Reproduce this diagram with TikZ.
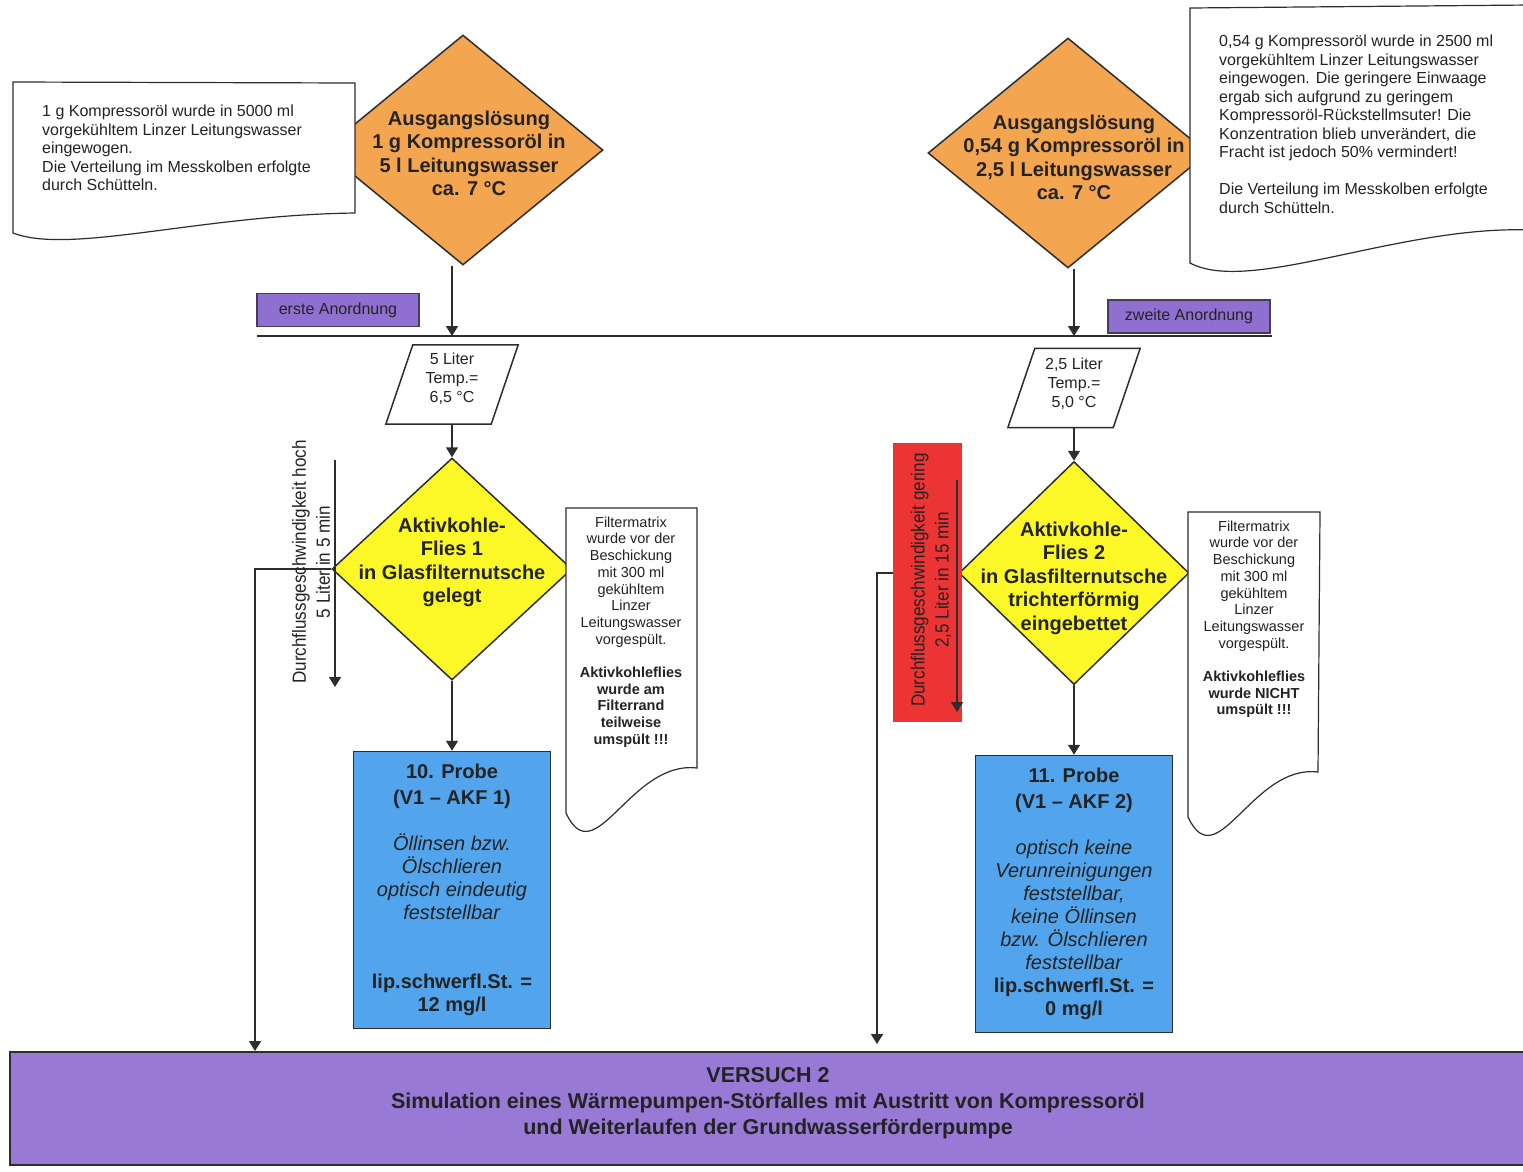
\documentclass[tikz,border=0pt]{standalone}
\usepackage{fontspec}
\setmainfont{Liberation Sans}
\newfontfamily\narrowsans[FakeStretch=0.9]{Liberation Sans}
\usetikzlibrary{shapes.geometric,arrows.meta}

\definecolor{linec}{RGB}{45,45,45}
\definecolor{textc}{RGB}{35,35,35}
\definecolor{orangefill}{RGB}{244,165,80}
\definecolor{yellowfill}{RGB}{252,248,40}
\definecolor{bluefill}{RGB}{82,165,236}
\definecolor{purplefill}{RGB}{143,112,208}
\definecolor{purplebar}{RGB}{152,122,214}
\definecolor{redfill}{RGB}{236,52,52}
\definecolor{tagborder}{RGB}{70,60,90}

\begin{document}
\begin{tikzpicture}[x=1pt,y=-1pt,
  line/.style={draw=linec, line width=1.5pt},
  arr/.style={line, -{Triangle[width=12pt,length=10pt]}},
  dia/.style={shape=diamond, draw=linec, line width=1.5pt, inner sep=0pt},
  txt/.style={inner sep=0pt, align=center, text=textc},
  bigbold/.style={font=\fontsize{20}{23.5}\selectfont\bfseries},
  small/.style={font=\fontsize{16}{18.5}\selectfont},
  tiny/.style={font=\fontsize{14.5}{16.7}\selectfont},
  rotfont/.style={font=\narrowsans\fontsize{19}{24}\selectfont},
  probe/.style={draw=linec, line width=1.5pt, fill=bluefill, minimum width=197pt, minimum height=277pt, inner sep=0pt},
  docshape/.style={draw=linec, line width=1.2pt, fill=white},
  pbox/.style={minimum width=105pt, minimum height=79pt, inner sep=0pt},
  tag/.style={draw=tagborder, line width=1.5pt, fill=purplefill, minimum width=162pt, minimum height=33pt, inner sep=0pt, font=\fontsize{16}{18.5}\selectfont, text=textc}]

\useasboundingbox (0,0) rectangle (1523,1171);
\fill[white] (0,0) rectangle (1523,1171);

% starting solutions
\node[dia, fill=orangefill, minimum width=280pt, minimum height=230pt] (o1) at (463,150) {};
\node[dia, fill=orangefill, minimum width=280pt, minimum height=230pt] (o2) at (1068,153) {};

% notes on the starting solutions
\draw[docshape] (13,82) -- (355,83) -- (355,213) .. controls (200,215) and (70,255) .. (13,233) -- cycle;
\node[txt, small, align=left, anchor=north west] (d1t) at (42,105)
  {1 g Kompressoröl wurde in 5000 ml\\vorgekühltem Linzer Leitungswasser\\eingewogen.\\Die Verteilung im Messkolben erfolgte\\durch Schütteln.};
\draw[docshape] (1190,8) -- (1530,5) -- (1530,230) .. controls (1400,225) and (1250,295) .. (1190,263) -- cycle;
\node[txt, small, align=left, anchor=north west] (d2t) at (1219,35)
  {0,54 g Kompressoröl wurde in 2500 ml\\vorgekühltem Linzer Leitungswasser\\eingewogen. Die geringere Einwaage\\ergab sich aufgrund zu geringem\\Kompressoröl-Rückstellmsuter! Die\\Konzentration blieb unverändert, die\\Fracht ist jedoch 50\% vermindert!\\[18.5pt]Die Verteilung im Messkolben erfolgte\\durch Schütteln.};

\node[txt, bigbold, anchor=north] (o1t) at (469,110.5)
  {Ausgangslösung\\1 g Kompressoröl in\\5 l Leitungswasser\\ca. 7 °C};
\node[txt, bigbold, anchor=north] (o2t) at (1074,114.5)
  {Ausgangslösung\\0,54 g Kompressoröl in\\2,5 l Leitungswasser\\ca. 7 °C};

% volume / temperature inputs
\node[pbox] (p1) at (452,384.5) {};
\node[pbox] (p2) at (1074,388) {};
\foreach \p in {p1,p2}
  \draw[line, fill=white] ([xshift=-13.5pt]\p.south west) -- ([xshift=-13.5pt]\p.south east)
    -- ([xshift=13.5pt]\p.north east) -- ([xshift=13.5pt]\p.north west) -- cycle;
\node[txt, font=\fontsize{16}{19}\selectfont, anchor=north] (p1t) at (452,353) {5 Liter\\Temp.=\\6,5 °C};
\node[txt, font=\fontsize{16}{19}\selectfont, anchor=north] (p2t) at (1074,358) {2,5 Liter\\Temp.=\\5,0 °C};

% distribution line
\coordinate (hl) at (257,336);
\coordinate (hr) at (1272,336);
\draw[line] (hl) -- (hr);
\draw[arr] (o1.south -| p1.north) -- (hl -| p1.north);
\draw[arr] (o2.south -| p2.north) -- (hl -| p2.north);

\node[tag] (t1) at (338,310) {erste Anordnung};
\node[tag] (t2) at (1189,316.5) {zweite Anordnung};

% filter stages
\node[dia, fill=yellowfill, minimum width=240pt, minimum height=222pt] (y1) at (452,569) {};
\node[dia, fill=yellowfill, minimum width=230pt, minimum height=223pt] (y2) at (1074,573) {};
\node[txt, bigbold, anchor=north] (y1t) at (452,517.6)
  {Aktivkohle-\\Flies 1\\in Glasfilternutsche\\gelegt};
\node[txt, bigbold, anchor=north] (y2t) at (1074,521.6)
  {Aktivkohle-\\Flies 2\\in Glasfilternutsche\\trichterförmig\\eingebettet};
\draw[arr] (p1.south) -- (y1.north);
\draw[arr] (p2.south) -- (y2.north);

% bypass flows to the bottom bar
\coordinate (c1) at (255,1051);
\coordinate (c2) at (877,1044);
\draw[arr] (y1.west) -| (c1);
\draw[arr] (y2.west) -| (c2);

% flow rate annotations
\coordinate (a1s) at (335,460);
\coordinate (a1e) at (335,687);
\draw[arr] (a1s) -- (a1e);
\node[txt, rotfont, rotate=90] (r1) at (311,562) {Durchflussgeschwindigkeit hoch\\5 Liter in 5 min};

\node[fill=redfill, minimum width=69pt, minimum height=279pt, inner sep=0pt] (redbox) at (927.5,582.5) {};
\coordinate (a2s) at (957,480);
\coordinate (a2e) at (957,712);
\draw[arr] (a2s) -- (a2e);
\node[txt, rotfont, rotate=90] (r2) at (931,580) {Durchflussgeschwindigkeit gering\\2,5 Liter in 15 min};

% filter notes
\draw[docshape] (566,508) -- (697,508) -- (697,768) .. controls (630,760) and (595,875) .. (566,813) -- cycle;
\draw[docshape] (1188,512) -- (1320,512) -- (1318,772) .. controls (1252,764) and (1217,879) .. (1188,817) -- cycle;
\node[txt, tiny, anchor=north] (f1t) at (631,516.5)
  {Filtermatrix\\wurde vor der\\Beschickung\\mit 300 ml\\gekühltem\\Linzer\\Leitungswasser\\vorgespült.\\[16.7pt]\textbf{Aktivkohleflies}\\\textbf{wurde am}\\\textbf{Filterrand}\\\textbf{teilweise}\\\textbf{umspült !!!}};
\node[txt, tiny, anchor=north] (f2t) at (1254,520.5)
  {Filtermatrix\\wurde vor der\\Beschickung\\mit 300 ml\\gekühltem\\Linzer\\Leitungswasser\\vorgespült.\\[16.7pt]\textbf{Aktivkohleflies}\\\textbf{wurde NICHT}\\\textbf{umspült !!!}};

% samples
\node[probe] (b1) at (452,890) {};
\node[probe] (b2) at (1074,894) {};
\draw[arr] (y1.south) -- (b1.north);
\draw[arr] (y2.south) -- (b2.north);
\node[txt, font=\fontsize{20}{23}\selectfont, anchor=north] (b1t) at (452,763.5)
  {\textbf{10. Probe}\\[3pt]\textbf{(V1 – AKF 1)}\\[23pt]\textit{Öllinsen bzw.}\\\textit{Ölschlieren}\\\textit{optisch eindeutig}\\\textit{feststellbar}\\[46pt]\textbf{lip.schwerfl.St. =}\\\textbf{12 mg/l}};
\node[txt, font=\fontsize{20}{23}\selectfont, anchor=north] (b2t) at (1074,767.5)
  {\textbf{11. Probe}\\[3pt]\textbf{(V1 – AKF 2)}\\[23pt]\textit{optisch keine}\\\textit{Verunreinigungen}\\\textit{feststellbar,}\\\textit{keine Öllinsen}\\\textit{bzw. Ölschlieren}\\\textit{feststellbar}\\\textbf{lip.schwerfl.St. =}\\\textbf{0 mg/l}};

% experiment title bar
\node[fill=purplebar, draw=linec, line width=2pt, minimum width=1520pt, minimum height=113pt, inner sep=0pt] (bar) at (770,1108.5) {};
\node[txt, font=\fontsize{21.5}{26}\selectfont\bfseries, anchor=north] (bart) at (768,1067)
  {VERSUCH 2\\Simulation eines Wärmepumpen-Störfalles mit Austritt von Kompressoröl\\und Weiterlaufen der Grundwasserförderpumpe};
\end{tikzpicture}
\end{document}
